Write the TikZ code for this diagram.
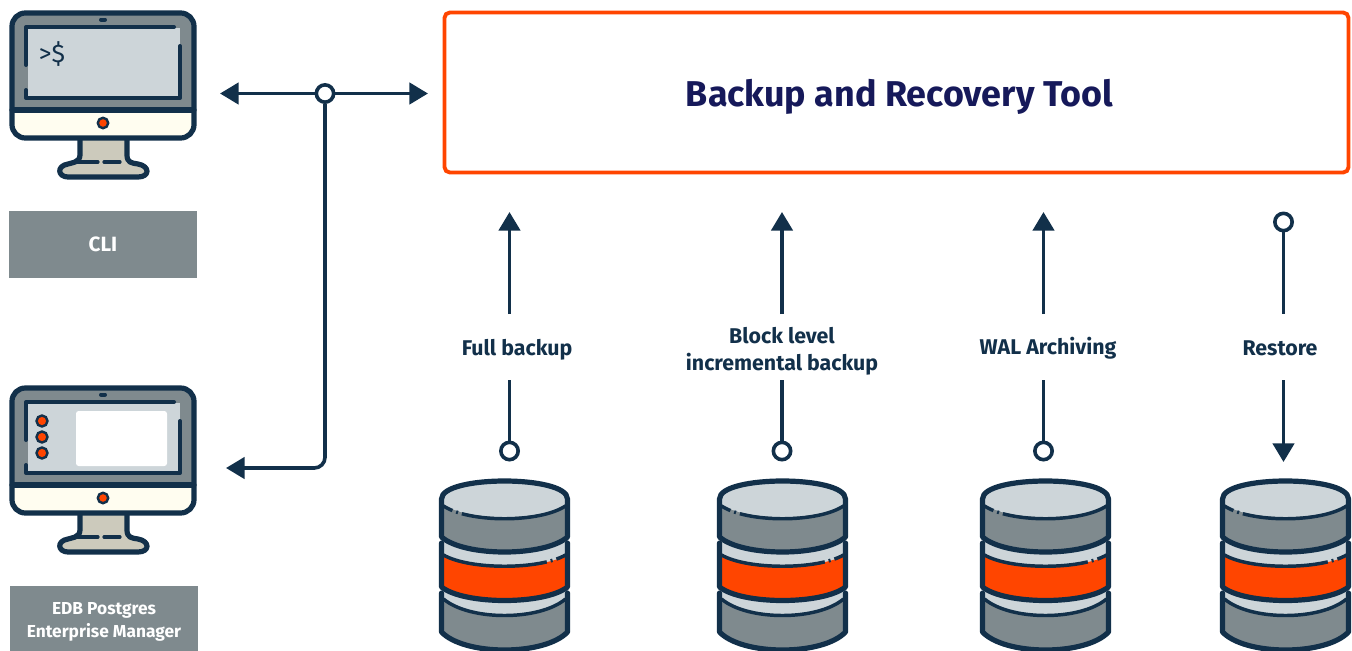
\documentclass[tikz,border=0pt]{standalone}
\usepackage{fontspec}
\setmainfont{Fira Sans}
\usetikzlibrary{arrows, arrows.meta}
\definecolor{navy}{HTML}{12304A}
\definecolor{ink}{HTML}{16195A}
\definecolor{slate}{HTML}{7F8A8E}
\definecolor{pale}{HTML}{CDD5D9}
\definecolor{cream}{HTML}{FFFDF0}
\definecolor{putty}{HTML}{CCCABC}
\definecolor{flame}{HTML}{FF4500}
\tikzset{
  wire/.style={draw=navy, line width=2.7pt},
  tip/.style={-{Triangle[length=14pt, width=16pt]}},
  hole/.style={circle, draw=navy, fill=white, line width=2.7pt, inner sep=0pt, minimum size=13pt},
  lbl/.style={text=navy, font=\fontsize{16}{20.5}\selectfont\bfseries, align=center},
  tag/.style={fill=slate, text=white, font=\fontsize{13}{17}\selectfont\bfseries, align=center, inner sep=0pt},
  edge/.style={draw=navy, line width=3.9pt, line cap=round, line join=round},
  seam/.style={draw=navy, line width=2.6pt, dash pattern=on 7.5pt off 3pt on 1.5pt off 3pt on 300pt},
  pics/monitor/.style={code={
    \fill[slate, rounded corners=10pt] (12,13) rectangle (194,112);
    \fill[cream, rounded corners=10pt] (12,100) rectangle (194,138);
    \fill[slate] (12,60) rectangle (194,110);
    \fill[pale] (28,28) rectangle (180,97);
    \fill[putty] (80,139) -- (80,155) .. controls (80,163) and (70,163) .. (68,164) .. controls (56,166) and (58,177) .. (68,177)
      -- (138,177) .. controls (150,177) and (150,166) .. (138,164) .. controls (132,163) and (127,163) .. (127,155) -- (127,139) -- cycle;
    \draw[edge] (80,139) -- (80,155) .. controls (80,163) and (70,163) .. (68,164) .. controls (56,166) and (58,177) .. (68,177)
      -- (138,177) .. controls (150,177) and (150,166) .. (138,164) .. controls (132,163) and (127,163) .. (127,155) -- (127,139);
    \draw[edge, rounded corners=10pt] (12,13) rectangle (194,138);
    \draw[edge] (12,110) -- (194,110);
    \draw[edge, line width=3pt] (101,19.5) -- (105,19.5);
    \draw[edge, line width=3pt] (26,65) -- (26,27) -- (174,27);
    \draw[edge, line width=3pt] (180,46) -- (180,98) -- (26,98) -- (26,90);
    \draw[edge, line width=2.4pt] (76,162) -- (98,162);
    \draw[edge, line width=2.4pt] (104,162) -- (120,162);
    \draw[navy, line width=1.8pt, fill=flame] (103,123) circle[radius=5.2];
  }},
  pics/database/.style={code={
    % bottom tier
    \fill[pale] (-63,85) -- (-63,115) -- (63,115) -- (63,85) -- cycle;
    \fill[slate] (-63,100) .. controls (-35,122) and (35,122) .. (63,100) -- (63,133) .. controls (40,157) and (-40,157) .. (-63,133) -- cycle;
    \draw[navy, line width=2.6pt] (-61,100) .. controls (-35,122) and (35,122) .. (61,100);
    \draw[edge] (-63,94) -- (-63,133) .. controls (-40,157) and (40,157) .. (63,133) -- (63,94);
    % middle tier
    \fill[pale] (-63,40) -- (-63,88) -- (63,88) -- (63,40) -- cycle;
    \fill[flame] (-63,56) .. controls (-35,71) and (35,71) .. (63,56) -- (63,88) .. controls (40,106) and (-40,106) .. (-63,88) -- cycle;
    \draw[seam] (61,56) .. controls (35,71) and (-35,71) .. (-61,56);
    \draw[edge] (-63,44) -- (-63,88) .. controls (-40,106) and (40,106) .. (63,88) -- (63,44);
    % top tier
    \fill[slate] (-63,0) -- (-63,38) .. controls (-40,58) and (40,58) .. (63,38) -- (63,0) -- cycle;
    \fill[pale] (0,0) ellipse[x radius=63, y radius=18];
    \draw[seam] (-61,7) .. controls (-35,24) and (35,24) .. (61,7);
    \draw[edge] (-63,38) -- (-63,0) .. controls (-63,-24) and (63,-24) .. (63,0) -- (63,38) .. controls (40,58) and (-40,58) .. (-63,38) -- cycle;
  }}
}
\begin{document}
\begin{tikzpicture}[x=.75pt, y=-.75pt]
    \useasboundingbox (0,0) rectangle (1352,650);

    \pic at (0,0) {monitor};
    \pic at (0,375) {monitor};
    \node[text=navy, font=\fontsize{19}{22}\selectfont, inner sep=0pt] (prompt) at (52,54) {>\$};
    \fill[white, rounded corners=2pt] (76,411) rectangle (167,466);
    \draw[navy, line width=1.8pt, fill=flame] (42,421) circle[radius=5.5];
    \draw[navy, line width=1.8pt, fill=flame] (42,437) circle[radius=5.5];
    \draw[navy, line width=1.8pt, fill=flame] (42,453) circle[radius=5.5];

    \node[tag, font=\fontsize{15.5}{18}\selectfont\bfseries, minimum width=141pt, minimum height=50pt] (cli) at (103,244.5) {CLI};
    \node[tag, minimum width=141pt, minimum height=54pt] (pem) at (104,622) {EDB Postgres\\Enterprise Manager};

    \node[draw=flame, line width=2.9pt, rounded corners=4pt, minimum width=678pt, minimum height=120pt] (tool) at (896.5,92.5) {};
    \node[text=ink, font=\fontsize{26.9}{30}\selectfont\bfseries] (toolname) at (899.5,96.5) {Backup and Recovery Tool};

    \pic at (504.5,499) {database};
    \pic at (782.5,499) {database};
    \pic at (1045.5,499) {database};
    \pic at (1285.5,499) {database};

    % hub between the clients and the tool
    \node[hole] (hub) at (325,93.5) {};
    \coordinate (cliend) at (220,93.5);
    \coordinate (toolend) at (428,93.5);
    \coordinate (pemend) at (226,468);
    \draw[wire, tip] (hub) -- (cliend);
    \draw[wire, tip] (hub) -- (toolend);
    \draw[wire, tip, rounded corners=8pt] (hub) |- (pemend);

    \node[lbl] (full) at (517,350) {Full backup};
    \node[lbl] (block) at (782,351) {Block level\\incremental backup};
    \node[lbl] (wal) at (1048,348) {WAL Archiving};
    \node[lbl] (restore) at (1280,348) {Restore};

    \node[hole] (fullpt) at (509.5,451) {};
    \node[hole] (blockpt) at (782,451) {};
    \node[hole] (walpt) at (1043.5,451) {};
    \node[hole] (restorept) at (1283.5,222) {};

    \coordinate (fulla) at (509.5,380);
    \coordinate (fullb) at (509.5,314);
    \coordinate (fullc) at (509.5,212);
    \coordinate (blocka) at (782,380);
    \coordinate (blockb) at (782,314);
    \coordinate (blockc) at (782,212);
    \coordinate (wala) at (1043.5,380);
    \coordinate (walb) at (1043.5,314);
    \coordinate (walc) at (1043.5,212);
    \coordinate (restorea) at (1283.5,314);
    \coordinate (restoreb) at (1283.5,380);
    \coordinate (restorec) at (1283.5,462);

    \draw[wire] (fullpt) -- (fulla);
    \draw[wire, tip] (fullb) -- (fullc);
    \draw[wire] (blockpt) -- (blocka);
    \draw[wire, tip] (blockb) -- (blockc);
    \draw[wire] (walpt) -- (wala);
    \draw[wire, tip] (walb) -- (walc);
    \draw[wire] (restorept) -- (restorea);
    \draw[wire, tip] (restoreb) -- (restorec);
  \end{tikzpicture}
\end{document}
